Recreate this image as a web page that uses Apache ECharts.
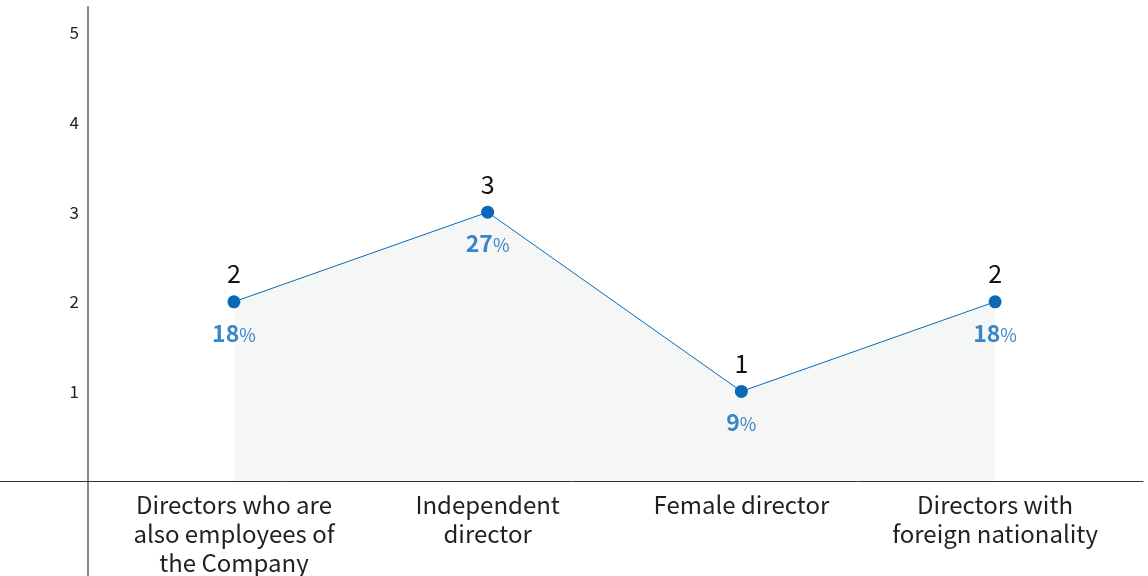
<!DOCTYPE html>
<html>
<head>
<meta charset="utf-8">
<script src="https://cdn.jsdelivr.net/npm/echarts@6/dist/echarts.min.js"></script>
<style>
  html, body { margin: 0; padding: 0; background: #fff; }
  #main { width: 1148px; height: 576px; }
</style>
</head>
<body>
<div id="main"></div>
<script>
// 数据
var categories = ['Directors who are\nalso employees of\nthe Company', 'Independent\ndirector', 'Female director', 'Directors with\nforeign nationality'];
var counts = [2, 3, 1, 2];
var percents = [18, 27, 9, 18];
var yTicks = [1, 2, 3, 4, 5];

var blue = '#0a68b8';
var font = '"Noto Sans CJK KR", "Noto Sans", sans-serif';

var lineData = counts.map(function (v, i) { return [i, v]; });
var pctData = counts.map(function (v, i) { return { value: [i, v], pct: percents[i] }; });

var xMin = -0.922, xMax = 3.583;

var myChart = echarts.init(document.getElementById('main'));
myChart.setOption({
    animation: false,
    textStyle: { fontFamily: font },
    grid: [
        { left: 0, right: 5, top: 7, bottom: 95, outerBoundsMode: 'none', containLabel: false },
        // 下方只用来延长 y 轴线
        { left: 0, right: 5, top: 481, bottom: 0, outerBoundsMode: 'none', containLabel: false }
    ],
    xAxis: [
        {
            type: 'value',
            min: xMin,
            max: xMax,
            splitLine: { show: false },
            axisTick: { show: false },
            axisLine: { onZero: false, lineStyle: { color: '#333', width: 1 } },
            axisLabel: {
                customValues: [0, 1, 2, 3],
                formatter: function (v) { return categories[Math.round(v)]; },
                fontSize: 24,
                lineHeight: 29,
                color: '#231f20',
                fontFamily: font,
                margin: 9
            }
        },
        { gridIndex: 1, type: 'value', min: xMin, max: xMax, show: false }
    ],
    yAxis: [
        {
            type: 'value',
            min: 0,
            max: 5.29,
            offset: -88,
            splitLine: { show: false },
            axisTick: { show: false },
            axisLine: { show: true, onZero: false, lineStyle: { color: '#888', width: 2 } },
            axisLabel: {
                customValues: yTicks,
                fontSize: 17,
                color: '#222',
                fontFamily: font,
                margin: 9
            }
        },
        {
            gridIndex: 1,
            type: 'value',
            min: 0,
            max: 1,
            offset: -88,
            splitLine: { show: false },
            axisTick: { show: false },
            axisLabel: { show: false },
            axisLine: { show: true, onZero: false, lineStyle: { color: '#888', width: 2 } }
        }
    ],
    series: [
        {
            type: 'line',
            data: lineData,
            symbol: 'circle',
            symbolSize: 13,
            itemStyle: { color: blue },
            lineStyle: { color: blue, width: 1 },
            areaStyle: { color: '#f5f7f7', opacity: 1 },
            label: {
                show: true,
                position: 'top',
                distance: 9,
                fontSize: 25,
                color: '#111',
                fontFamily: font,
                formatter: function (p) { return p.value[1]; }
            },
            z: 3
        },
        {
            type: 'scatter',
            data: pctData,
            symbolSize: 1,
            itemStyle: { color: 'rgba(0,0,0,0)' },
            label: {
                show: true,
                position: 'bottom',
                distance: 19,
                formatter: function (p) { return '{n|' + p.data.pct + '}{s|%}'; },
                rich: {
                    n: { fontSize: 23, fontWeight: 'bold', color: blue, fontFamily: font },
                    s: { fontSize: 18, color: blue, fontFamily: font, padding: [4, 0, 0, 0] }
                }
            },
            z: 4
        }
    ]
});
</script>
</body>
</html>
